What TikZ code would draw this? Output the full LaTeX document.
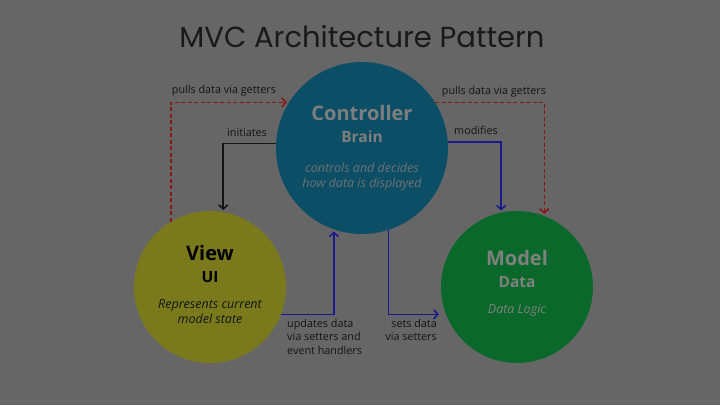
\documentclass[tikz,border=0pt]{standalone}
\usepackage{fontspec}
\setmainfont{Open Sans}
\newfontfamily\titlefont{Poppins}
\usetikzlibrary{
  arrows.meta,   % open arrow tips
  positioning    % relative placement
}

\definecolor{bggray}{HTML}{666666}
\definecolor{ctrlteal}{HTML}{0B4E66}
\definecolor{viewolive}{HTML}{7A7A1C}
\definecolor{modelgreen}{HTML}{0A692A}
\definecolor{ctrltext}{HTML}{7E7E7E}
\definecolor{modeltext}{HTML}{808080}
\definecolor{pullred}{HTML}{8A1717}
\definecolor{pushblue}{HTML}{1A1A8C}
\definecolor{labeltext}{HTML}{141414}

\begin{document}
\begin{tikzpicture}[x=1pt, y=-1pt,
  >={Straight Barb[length=4pt, width=9pt]},
  bubble/.style={circle, draw=none, minimum size=#1, inner sep=0pt},
  flow/.style={line width=1.6pt, ->, shorten >=2pt},
  getter/.style={flow, draw=pullred, dash pattern=on 4pt off 2.5pt},
  lbl/.style={font=\fontsize{10.8}{13.5}\selectfont, text=labeltext, inner sep=0pt},
  bigname/.style={font=\bfseries\fontsize{20}{24}\selectfont, inner sep=0pt, anchor=base},
  subname/.style={font=\bfseries\fontsize{15.5}{18}\selectfont, inner sep=0pt, anchor=base},
  note/.style={font=\itshape\fontsize{12.5}{15}\selectfont, inner sep=0pt, anchor=base}
]
  % ===== background =====
  \fill[bggray] (0,0) rectangle (720,405);

  % ===== title =====
  \node[font=\titlefont\fontsize{29}{32}\selectfont, text=black!90, anchor=base]
    (title) at (362,47) {MVC Architecture Pattern};

  % ===== the three parts =====
  \node[bubble=172pt, fill=ctrlteal]   (ctrl)  at (362,148) {};
  \node[bubble=152pt, fill=viewolive]  (view)  at (210,287) {};
  \node[bubble=152pt, fill=modelgreen] (model) at (517,287) {};

  % Controller
  \node[bigname, text=ctrltext] (ctrlname) at (362,120) {Controller};
  \node[subname, text=ctrltext] (ctrlrole) at (362,142) {Brain};
  \node[note, text=ctrltext!110] (ctrlnote1) at (362,172) {controls and decides};
  \node[note, text=ctrltext!110] (ctrlnote2) at (362,187) {how data is displayed};

  % View
  \node[bigname, text=black] (viewname) at (210,260) {View};
  \node[subname, text=black] (viewrole) at (210,282) {UI};
  \node[note, text=labeltext] (viewnote1) at (210,308) {Represents current};
  \node[note, text=labeltext] (viewnote2) at (210,323) {model state};

  % Model
  \node[bigname, text=modeltext] (modelname) at (517,265) {Model};
  \node[subname, text=modeltext] (modelrole) at (517,287) {Data};
  \node[note, text=modeltext] (modelnote) at (517,313) {Data Logic};

  % ===== connectors =====
  % getters (dashed red)
  \draw[getter] (view.121) |- (ctrl.148);
  \draw[getter] (ctrl.32) -| (model.69);

  % initiates (black)
  \draw[flow, draw=labeltext] (ctrl.177) -| (view.80);

  % modifies, updates, sets (blue)
  \draw[flow, draw=pushblue] (ctrl.4) -| (model.102);
  \draw[flow, draw=pushblue] (view.-21) -| (ctrl.251);
  \draw[flow, draw=pushblue, shorten >=7pt] (ctrl.288) |- (model.201);

  % ===== connector labels =====
  \node[lbl, anchor=base] (getl) at (224,93) {pulls data via getters};
  \node[lbl, anchor=base] (getr) at (494,94) {pulls data via getters};
  \node[lbl, anchor=base] (init) at (247,136) {initiates};
  \node[lbl, anchor=base] (modi) at (476,134) {modifies};
  \node[lbl, anchor=north west, align=left] (upd) at (287,319)
    {updates data\\via setters and\\event handlers};
  \node[lbl, anchor=north east, align=right] (sets) at (437,319)
    {sets data\\via setters};
\end{tikzpicture}
\end{document}
